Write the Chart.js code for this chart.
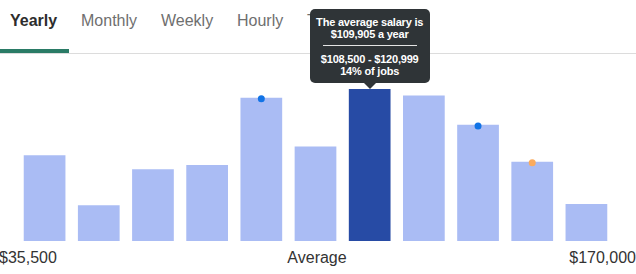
<!DOCTYPE html>
<html>
<head>
<meta charset="utf-8">
<script src="https://cdn.jsdelivr.net/npm/chart.js@4"></script>
<style>
  body { margin: 0; background: #fff; font-family: Arial, "Liberation Sans", sans-serif; }
  #wrap { position: relative; width: 636px; height: 274px; overflow: hidden; }
  .tab { position: absolute; top: 11px; font-size: 16px; line-height: 20px; color: #6f6f6f; white-space: nowrap; }
  .tab.on { color: #2d2d2d; font-weight: bold; }
  #underline { position: absolute; left: 0; top: 49px; width: 69px; height: 4px; background: #2a7b66; }
  #rule { position: absolute; left: 0; right: 0; top: 53px; height: 1px; background: #dcdcdc; }
  #chart { position: absolute; left: 0; top: 0; z-index: 2; }
  .lbl { position: absolute; top: 248px; font-size: 16px; line-height: 20px; color: #333; white-space: nowrap; }
  #tip { position: absolute; z-index: 3; display: none; width: 120px; box-sizing: border-box;
         padding: 7px 2px 6px; background: #2f3437; color: #fff; border-radius: 5px; white-space: nowrap;
         font-size: 11px; font-weight: bold; line-height: 12px; letter-spacing: -0.2px; text-align: center; }
  #tip hr { border: 0; height: 1px; background: #e4e4e4; margin: 5px 11px 7px; }
  #tip::after { content: ""; position: absolute; left: 50%; bottom: -6px; margin-left: -6px;
                border-left: 6px solid transparent; border-right: 6px solid transparent; border-top: 6px solid #2f3437; }
</style>
</head>
<body>
<div id="wrap">
  <div class="tab on" style="left:10px">Yearly</div>
  <div class="tab" style="left:81px">Monthly</div>
  <div class="tab" style="left:161px">Weekly</div>
  <div class="tab" style="left:237px">Hourly</div>
  <div class="tab" style="left:307px">Tips</div>
  <div id="underline"></div>
  <div id="rule"></div>
  <canvas id="chart" width="636" height="274"></canvas>
  <div class="lbl" style="left:-1px">$35,500</div>
  <div class="lbl" style="left:268px;width:98px;text-align:center">Average</div>
  <div class="lbl" style="right:0">$170,000</div>
  <div id="tip"></div>
</div>
<script>
// rangos salariales (una barra por rango)
const rangos = ['$35,500 - $45,999', '$46,000 - $58,499', '$58,500 - $70,999', '$71,000 - $83,499',
  '$83,500 - $95,999', '$96,000 - $108,499', '$108,500 - $120,999', '$121,000 - $133,499',
  '$133,500 - $145,999', '$146,000 - $158,499', '$158,500 - $170,000'];
// porcentaje de empleos en cada rango
const porcentajes = [7.9, 3.3, 6.6, 7.0, 13.2, 8.7, 14, 13.4, 10.7, 7.3, 3.4];
// marcadores sobre algunas barras
const marcadores = [null, null, null, null, 13.1, null, null, null, 10.6, 7.2, null];
const salarioPromedio = '$109,905';
const indicePromedio = 6;

const coloresBarras = porcentajes.map((v, i) => i === indicePromedio ? '#274ba5' : '#aabcf4');
const coloresPuntos = ['#1173e6', '#1173e6', '#1173e6', '#1173e6', '#1173e6', '#1173e6',
  '#1173e6', '#1173e6', '#1173e6', '#fbab5e', '#1173e6'];

function tooltipExterno(context) {
  const tt = context.tooltip;
  const el = document.getElementById('tip');
  if (tt.opacity === 0 || !tt.dataPoints || !tt.dataPoints.length) {
    el.style.display = 'none';
    return;
  }
  const i = tt.dataPoints[0].dataIndex;
  el.innerHTML = 'The average salary is<br>' + salarioPromedio + ' a year<hr>' +
    rangos[i] + '<br>' + Math.round(porcentajes[i]) + '% of jobs';
  el.style.display = 'block';
  el.style.left = (tt.caretX - el.offsetWidth / 2) + 'px';
  el.style.top = (tt.caretY - 6 - el.offsetHeight) + 'px';
}

const ctx = document.getElementById('chart').getContext('2d');
const grafico = new Chart(ctx, {
  type: 'bar',
  data: {
    labels: rangos,
    datasets: [{
      type: 'line',
      data: marcadores,
      showLine: false,
      pointRadius: 3.5,
      pointHoverRadius: 3.5,
      pointBorderWidth: 0,
      pointBackgroundColor: coloresPuntos,
      order: 0
    }, {
      data: porcentajes,
      backgroundColor: coloresBarras,
      hoverBackgroundColor: coloresBarras,
      borderWidth: 0,
      barPercentage: 0.77,
      categoryPercentage: 1,
      order: 1
    }]
  },
  options: {
    responsive: false,
    animation: false,
    events: [],
    layout: { padding: { left: 17.5, right: 22.5, top: 55, bottom: 33 } },
    scales: {
      x: { display: false },
      y: { display: false, min: 0, max: 17.13 }
    },
    plugins: {
      legend: { display: false },
      tooltip: { enabled: false, external: tooltipExterno }
    }
  }
});

grafico.tooltip.setActiveElements([{ datasetIndex: 1, index: indicePromedio }], { x: 370, y: 89 });
grafico.draw();
</script>
</body>
</html>
